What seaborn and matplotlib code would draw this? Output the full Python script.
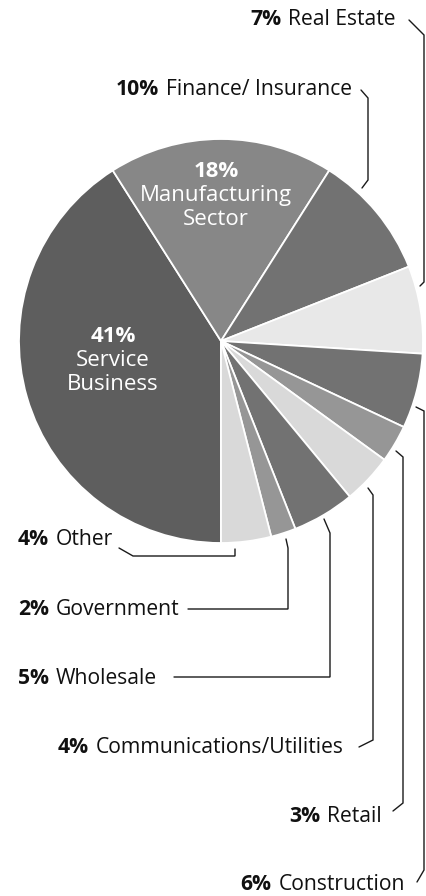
import matplotlib
matplotlib.use("Agg")
import matplotlib.pyplot as plt
import seaborn as sns

# ---- data ----
categories = ["Service Business", "Manufacturing Sector", "Finance/ Insurance", "Real Estate",
              "Construction", "Retail", "Communications/Utilities", "Wholesale", "Government", "Other"]
shares = [41, 18, 10, 7, 6, 3, 4, 5, 2, 4]
pct_labels = ["41%", "18%", "10%", "7%", "6%", "3%", "4%", "5%", "2%", "4%"]
slice_colors = ["#5e5e5e", "#878787", "#727272", "#e8e8e8", "#727272",
                "#969696", "#d9d9d9", "#727272", "#969696", "#d9d9d9"]

# ---- layout ----
W, H = 427, 896
CX, CY, R = 221, 341, 202
FS = 15.2
FS_IN = 16

sns.set_theme(style="white")
plt.rcParams["font.family"] = ["Open Sans", "DejaVu Sans"]

fig = plt.figure(figsize=(W / 100, H / 100), dpi=100)
fig.patch.set_facecolor("white")
ax = fig.add_axes([(CX - R) / W, (H - CY - R) / H, 2 * R / W, 2 * R / H])
wedges, _ = ax.pie(shares, colors=slice_colors, startangle=270, counterclock=False,
                   radius=1, wedgeprops=dict(edgecolor="white", linewidth=1.3))
ax.set_xlim(-1, 1)
ax.set_ylim(-1, 1)
ax.set_axis_off()

ov = fig.add_axes([0, 0, 1, 1])
ov.set_xlim(0, W)
ov.set_ylim(H, 0)
ov.set_axis_off()
ov.patch.set_visible(False)

# inside labels: (index, x, baselines, name lines)
inside = [
    (0, 113, [342, 366, 390], ["Service", "Business"]),
    (1, 216, [177, 201, 225], ["Manufacturing", "Sector"]),
]
for idx, x, ys, lines in inside:
    ov.text(x, ys[0], pct_labels[idx], ha="center", va="baseline", fontsize=FS_IN,
            fontweight="bold", color="white")
    for y, ln in zip(ys[1:], lines):
        ov.text(x, y, ln, ha="center", va="baseline", fontsize=FS_IN, color="white")

fig.canvas.draw()
renderer = fig.canvas.get_renderer()


def width_px(t):
    return t.get_window_extent(renderer).width


# outside labels: index -> (anchor x, baseline y, alignment)
outside = {
    3: (396, 25, "right"),
    2: (352, 95, "right"),
    9: (18, 545, "left"),
    8: (18, 615, "left"),
    7: (18, 684, "left"),
    6: (58, 753, "left"),
    5: (382, 822, "right"),
    4: (405, 890, "right"),
}
GAP = 7
for idx, (x, y, align) in outside.items():
    name = categories[idx]
    if align == "left":
        tp = ov.text(x, y, pct_labels[idx], ha="left", va="baseline", fontsize=FS,
                     fontweight="bold", color="#111111")
        w = width_px(tp)
        ov.text(x + w + GAP, y, name, ha="left", va="baseline", fontsize=FS, color="#111111")
    else:
        tn = ov.text(x, y, name, ha="right", va="baseline", fontsize=FS, color="#111111")
        w = width_px(tn)
        ov.text(x - w - GAP, y, pct_labels[idx], ha="right", va="baseline", fontsize=FS,
                fontweight="bold", color="#111111")

leaders = {
    3: [(409, 20), (424, 35), (424, 282), (420, 286)],
    2: [(361, 90), (368, 98), (368, 180), (362, 188)],
    4: [(416, 407), (424, 411), (424, 870), (417, 882)],
    5: [(396, 451), (403, 457), (403, 803), (393, 811)],
    6: [(368, 488), (373, 495), (373, 740), (359, 747)],
    7: [(324, 519), (330, 533), (330, 677), (174, 677)],
    8: [(286, 539), (288, 548), (288, 609), (188, 609)],
    9: [(235, 549), (235, 556), (133, 556), (119, 548)],
}
for idx, pts in leaders.items():
    xs, ys = zip(*pts)
    ov.plot(xs, ys, color="#1a1a1a", lw=1.0, solid_joinstyle="miter")

fig.savefig("out.png", dpi=100, facecolor="white")
